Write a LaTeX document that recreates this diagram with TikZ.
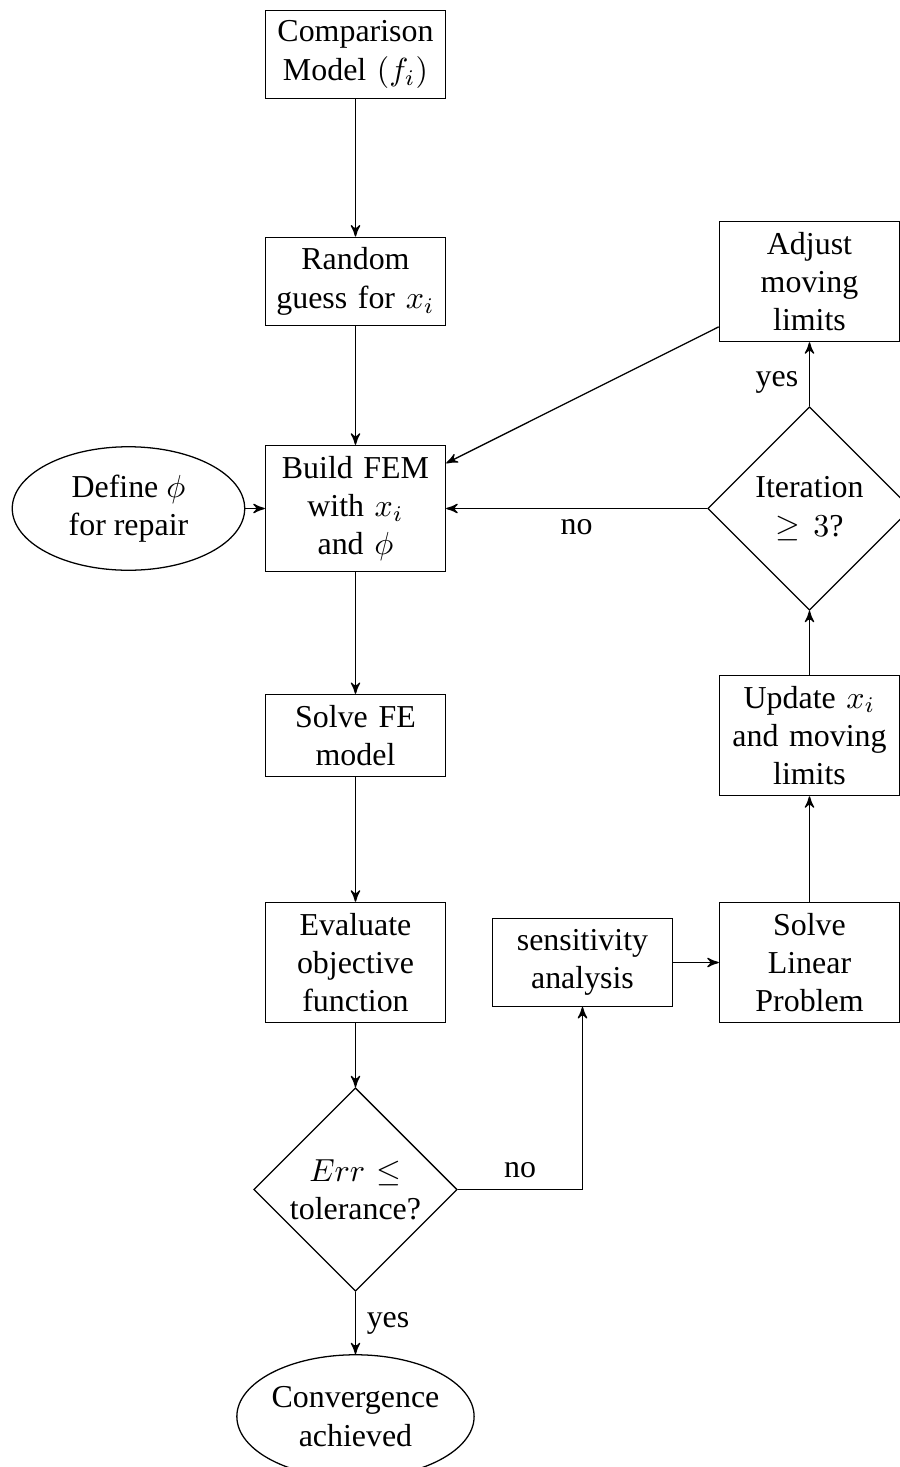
\documentclass[tikz,border=0pt]{standalone}
\usepackage[no-math]{fontspec}
\setmainfont{Liberation Serif}
\usepackage{amsmath}
\usepackage{amssymb}
\usepackage{tikz}
\usetikzlibrary{positioning, arrows, shapes}

\begin{document}
\begin{tikzpicture}[node distance = 2.5cm, on grid,
block/.style={rectangle, draw, text width = 1.75cm, align = center},
decision/.style={diamond, draw, aspect = 1, inner sep = 0pt, text width = 1.45cm, align = center, minimum width = 2.24cm, minimum height = 2.24cm},
startstop/.style={ellipse, draw, inner sep = 0pt, align = center, minimum width = 2.56cm, minimum height = 1.36cm},
line/.style={->, draw, >=stealth'}]

\useasboundingbox (-3.915,0.6) rectangle (5.986,-15.556);

\node[block] (comp) {Comparison\\ Model $(f_i)$};
\node[block, below = of comp] (rand) {Random\\ guess for $x_i$};
\node[block, below = of rand] (build) {Build FEM\\ with $x_i$\\ and $\phi$};
\node[startstop, left = of build] (define) {Define $\phi$\\ for repair};
\node[block, below = of build] (solve) {Solve FE\\ model};
\node[block, below = of solve] (eval) {Evaluate\\ objective\\ function};
\node[decision, below = of eval] (err) {$Err \leq$\\ tolerance?};
\node[startstop, below = of err] (conv) {Convergence\\ achieved};

\node[block, right = of eval] (sens) {sensitivity\\ analysis};
\node[block, right = of sens] (linear) {Solve\\ Linear\\ Problem};
\node[block, above = of linear] (update) {Update $x_i$\\ and moving\\ limits};
\node[decision, above = of update] (iter) {Iteration\\ $\geq 3$?};
\node[block, above = of iter] (adjust) {Adjust\\ moving\\ limits};

\path[line] (comp) -- (rand);
\path[line] (rand) -- (build);
\path[line] (define) -- (build);
\path[line] (build) -- (solve);
\path[line] (solve) -- (eval);
\path[line] (eval) -- (err);
\path[line] (err) -- node[right]{yes} (conv);
\path[line] (err) -| node[above, pos = 0.25]{no} (sens);
\path[line] (sens) -- (linear);
\path[line] (linear) -- (update);
\path[line] (update) -- (iter);
\path[line] (iter) -- node[left, pos = 0.37]{yes} (adjust);
\path[line] (iter) -- node[below]{no} (build);
\path[line] (adjust) -- (build);

\end{tikzpicture}
\end{document}
